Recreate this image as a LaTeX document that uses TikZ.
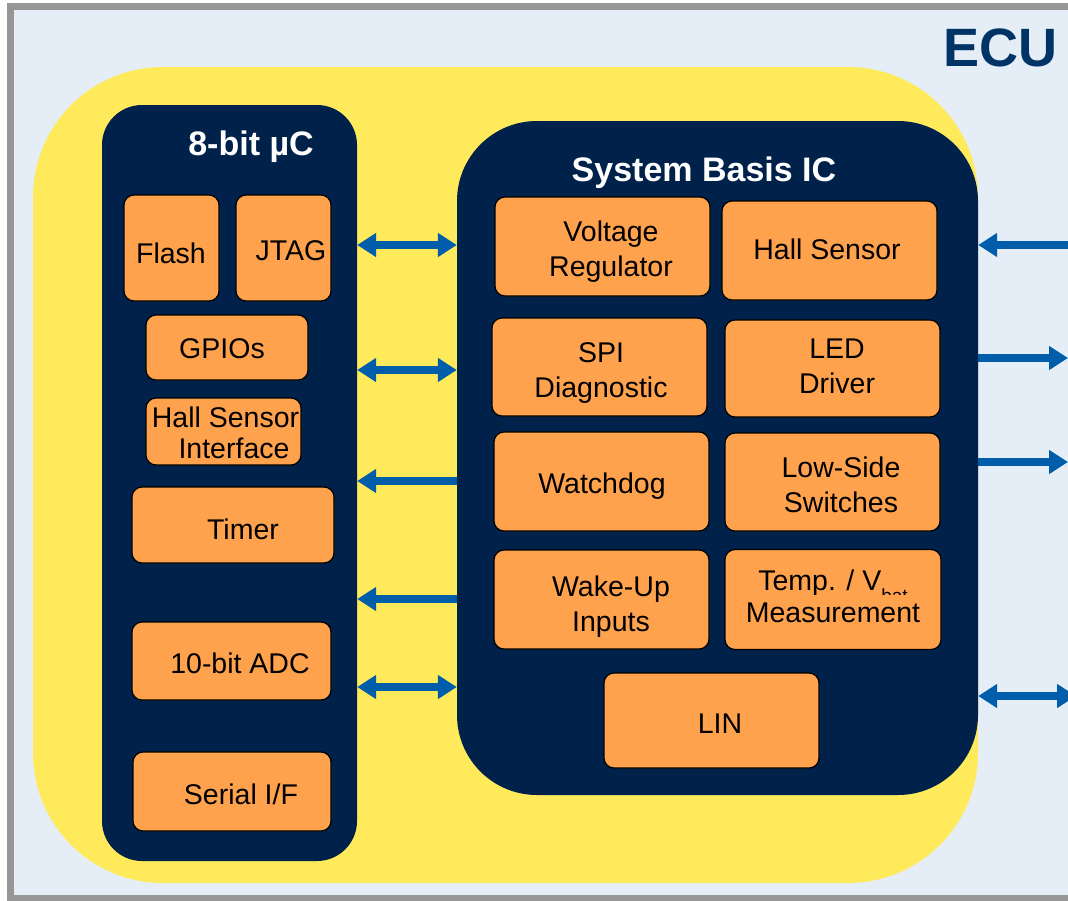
\documentclass[tikz,border=0pt]{standalone}
\usepackage{fontspec}
\setmainfont{Liberation Sans}
\usetikzlibrary{arrows.meta}
\definecolor{bgblue}{RGB}{229,238,246}
\definecolor{framegray}{RGB}{150,150,150}
\definecolor{yel}{RGB}{255,234,92}
\definecolor{navy}{RGB}{0,34,74}
\definecolor{orng}{RGB}{255,162,77}
\definecolor{arblue}{RGB}{0,93,170}
\definecolor{ecutxt}{RGB}{0,51,102}
\tikzset{
  obox/.style={draw=black, line width=1.2pt, fill=orng, rounded corners=10pt, inner sep=0pt},
  txt/.style={font=\fontsize{28.5}{35}\selectfont, text=black, align=center, inner sep=0pt},
  ttl/.style={font=\fontsize{34}{40}\selectfont\bfseries, text=white, inner sep=0pt},
  arrbase/.style={line width=7.5pt, draw=arblue},
  arrR/.style={arrbase, -{Triangle[length=19pt,width=23pt]}},
  arrD/.style={arrbase, {Triangle[length=19pt,width=23pt]}-{Triangle[length=19pt,width=23pt]}},
}
\begin{document}
\begin{tikzpicture}[x=1pt,y=-1pt]
\useasboundingbox (0,0) rectangle (1068,900);
\begin{scope}
\clip (0,0) rectangle (1068,900);
% frame
\draw[framegray, line width=7pt, fill=bgblue] (10.5,6.5) rectangle (1200,898.5);
% yellow
\fill[yel, rounded corners=130pt] (33,67) rectangle (978,883);
% dark boxes
\node[fill=navy, rounded corners=40pt, minimum width=255pt, minimum height=756pt, inner sep=0pt] (mc) at (229.5,483) {};
\node[fill=navy, rounded corners=80pt, minimum width=521pt, minimum height=674pt, inner sep=0pt] (sbc) at (717.5,458) {};
\node[ttl] (mctitle) at (251,147) {8-bit µC};
\node[ttl] (sbctitle) at (704,173) {System Basis IC};
\node[font=\fontsize{54}{60}\selectfont\bfseries, text=ecutxt, inner sep=0pt] (ecu) at (1000,48) {ECU};
% uC blocks
\node[obox, minimum width=95pt, minimum height=106pt] (flash) at (171.5,248) {};
\node[obox, minimum width=95pt, minimum height=106pt] (jtag) at (283.5,248) {};
\node[obox, minimum width=162pt, minimum height=65pt] (gpio) at (227,347.5) {};
\node[obox, minimum width=155pt, minimum height=67pt] (hallif) at (223.5,431.5) {};
\node[obox, minimum width=202pt, minimum height=76pt] (timer) at (233,525) {};
\node[obox, minimum width=199pt, minimum height=78pt] (adc) at (231.5,661) {};
\node[obox, minimum width=198pt, minimum height=79pt] (serial) at (232,791.5) {};
\node[txt] (tflash) at (171,253) {Flash};
\node[txt] (tjtag) at (291,251) {JTAG};
\node[txt] (tgpio) at (222,349) {GPIOs};
\node[txt, font=\fontsize{28.5}{30.5}\selectfont] (thallif) at (225.5,433) {Hall Sensor\\\hspace*{17pt}Interface};
\node[txt] (ttimer) at (243,529) {Timer};
\node[txt] (tadc) at (240,663) {10-bit ADC};
\node[txt] (tserial) at (241,794) {Serial I/F};
% SBC blocks
\node[obox, minimum width=215pt, minimum height=99pt] (vreg) at (602.5,246.5) {};
\node[obox, minimum width=215pt, minimum height=99pt] (hallsens) at (829.5,250.5) {};
\node[obox, minimum width=215pt, minimum height=98pt] (spi) at (599.5,367) {};
\node[obox, minimum width=215pt, minimum height=97pt] (led) at (832.5,368.5) {};
\node[obox, minimum width=215pt, minimum height=99pt] (wd) at (601.5,481.5) {};
\node[obox, minimum width=215pt, minimum height=98pt] (ls) at (832.5,482) {};
\node[obox, minimum width=215pt, minimum height=99pt] (wake) at (601.5,599.5) {};
\node[obox, minimum width=216pt, minimum height=100pt] (temp) at (833,599.5) {};
\node[obox, minimum width=215pt, minimum height=95pt] (lin) at (711.5,720.5) {};
\node[txt] (tvreg) at (611,252) {Voltage\\Regulator};
\node[txt] (thallsens) at (827,249) {Hall Sensor};
\node[txt] (tspi) at (601,372.5) {SPI\\Diagnostic};
\node[txt] (tled) at (837,366) {LED\\Driver};
\node[txt] (twd) at (602,486) {Watchdog};
\node[txt] (tls) at (841,485) {Low-Side\\Switches};
\node[txt] (twake) at (611,606.5) {Wake-Up\\Inputs};
\begin{scope}
\clip (725,550) rectangle (941,594);
\node[txt, anchor=base] (ttemp1) at (833,590) {Temp. / V\raisebox{-12pt}[0pt][0pt]{\fontsize{19}{19}\selectfont bat}};
\end{scope}
\node[txt, anchor=base] (ttemp2) at (833,622) {Measurement};
\node[txt] (tlin) at (720,724) {LIN};
% arrows between uC and SBC
\coordinate (l1) at (0,245);
\coordinate (l2) at (0,370);
\coordinate (l3) at (0,481);
\coordinate (l4) at (0,599);
\coordinate (l5) at (0,687);
\draw[arrD] (mc.east |- l1) -- (sbc.west |- l1);
\draw[arrD] (mc.east |- l2) -- (sbc.west |- l2);
\draw[arrR] (sbc.west |- l3) -- (mc.east |- l3);
\draw[arrR] (sbc.west |- l4) -- (mc.east |- l4);
\draw[arrD] (mc.east |- l5) -- (sbc.west |- l5);
% arrows on the right
\coordinate (r1) at (1090,245);
\coordinate (r2) at (1068,358);
\coordinate (r3) at (1068,462);
\coordinate (r4) at (1076,696);
\draw[arrR] (r1) -- (sbc.east |- r1);
\draw[arrR] (sbc.east |- r2) -- (r2);
\draw[arrR] (sbc.east |- r3) -- (r3);
\draw[arrD] (sbc.east |- r4) -- (r4);
\end{scope}
\end{tikzpicture}
\end{document}
